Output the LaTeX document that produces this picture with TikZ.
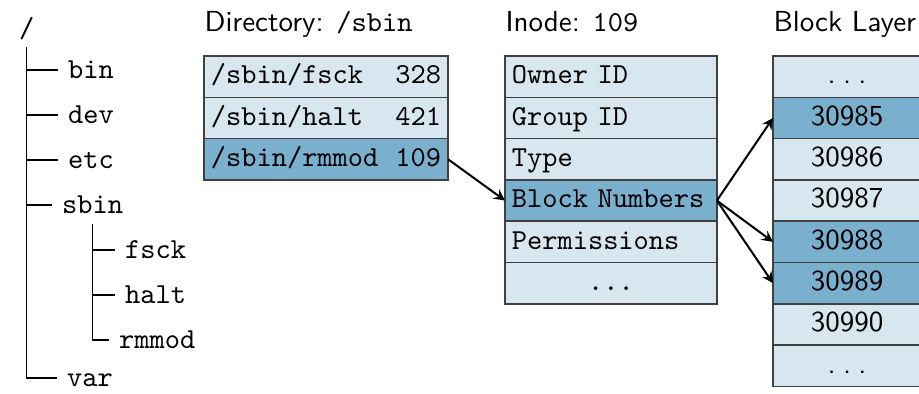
\documentclass[tikz,border=0pt]{standalone}
\usetikzlibrary{positioning}
\definecolor{celllight}{RGB}{216,230,240}
\definecolor{celldark}{RGB}{123,175,206}
\newcommand{\gapdots}{.\kern2.5pt.\kern2.5pt.}
\tikzset{
	cell/.style={draw=black!75, line width=0.5pt, fill=celllight, minimum height=14.25pt, inner ysep=0pt, inner xsep=2.4pt, outer sep=0pt, text height=7pt, text depth=2pt},
	hit/.style={fill=celldark},
	dircell/.style={cell, font=\ttfamily, text width=79.4pt, align=left},
	inocell/.style={cell, font=\ttfamily, text width=68.3pt, align=left},
	blkcell/.style={cell, font=\sffamily, text width=46.3pt, align=center},
	title/.style={font=\sffamily, inner sep=0pt, text depth=2pt},
	entry/.style={font=\ttfamily, text height=6.1pt, text depth=0pt},
	ptr/.style={-stealth, line width=0.7pt},
}

\begin{document}
\begin{tikzpicture}[x=0.345pt, y=-0.345pt]
			%%%%% START %%%%%
			\useasboundingbox (0, 0) rectangle (919, 393);
			
			% file tree
			\node[entry, anchor=base west] (root) at (9, 37) {/};
			\node[entry, anchor=west] (bin) at (58, 70) {bin};
			\node[entry, anchor=west] (dev) at (58, 115) {dev};
			\node[entry, anchor=west] (etc) at (58, 160) {etc};
			\node[entry, anchor=west] (sbin) at (52, 205) {sbin};
			\node[entry, anchor=west] (fsck) at (115, 250) {fsck};
			\node[entry, anchor=west] (halt) at (115, 295) {halt};
			\node[entry, anchor=west] (rmmod) at (109, 340) {rmmod};
			\node[entry, anchor=west] (var) at (57, 378) {var};
			
			\draw (root.south) |- (bin.west);
			\draw (root.south) |- (dev.west);
			\draw (root.south) |- (etc.west);
			\draw (root.south) |- (sbin.west);
			\draw (root.south) |- (var.west);
			\draw (sbin.south) |- (fsck.west);
			\draw (sbin.south) |- (halt.west);
			\draw (sbin.south) |- (rmmod.west);
			
			% directory
			\node[dircell, anchor=north west] (dir1) at (204, 56) {/sbin/fsck\hfill 328};
			\node[dircell, below=0pt of dir1] (dir2) {/sbin/halt\hfill 421};
			\node[dircell, hit, below=0pt of dir2] (dir3) {/sbin/rmmod\hfill 109};
			\node[title, above right=6.3pt and 0pt of dir1.north west] (dirtitle) {Directory: \texttt{/sbin}};
			
			% inode
			\node[inocell, anchor=north west] (ino1) at (505, 56) {Owner ID};
			\node[inocell, below=0pt of ino1] (ino2) {Group ID};
			\node[inocell, below=0pt of ino2] (ino3) {Type};
			\node[inocell, hit, below=0pt of ino3] (ino4) {Block Numbers};
			\node[inocell, below=0pt of ino4] (ino5) {Permissions};
			\node[inocell, align=center, below=0pt of ino5] (ino6) {...};
			\node[title, above right=6.3pt and 0pt of ino1.north west] (inotitle) {Inode: \texttt{109}};
			
			% block layer
			\node[blkcell, anchor=north west] (blk1) at (773, 56) {\gapdots};
			\node[blkcell, hit, below=0pt of blk1] (blk2) {30985};
			\node[blkcell, below=0pt of blk2] (blk3) {30986};
			\node[blkcell, below=0pt of blk3] (blk4) {30987};
			\node[blkcell, hit, below=0pt of blk4] (blk5) {30988};
			\node[blkcell, hit, below=0pt of blk5] (blk6) {30989};
			\node[blkcell, below=0pt of blk6] (blk7) {30990};
			\node[blkcell, below=0pt of blk7] (blk8) {\gapdots};
			\node[title, above right=6.3pt and 0pt of blk1.north west] (blktitle) {Block Layer};
			
			% pointers
			\draw[ptr] (dir3.east) -- (ino4.west);
			\draw[ptr] (ino4.east) -- (blk2.west);
			\draw[ptr] (ino4.east) -- (blk5.west);
			\draw[ptr] (ino4.east) -- (blk6.west);
			
			%%%%% END %%%%%
		\end{tikzpicture}
\end{document}
